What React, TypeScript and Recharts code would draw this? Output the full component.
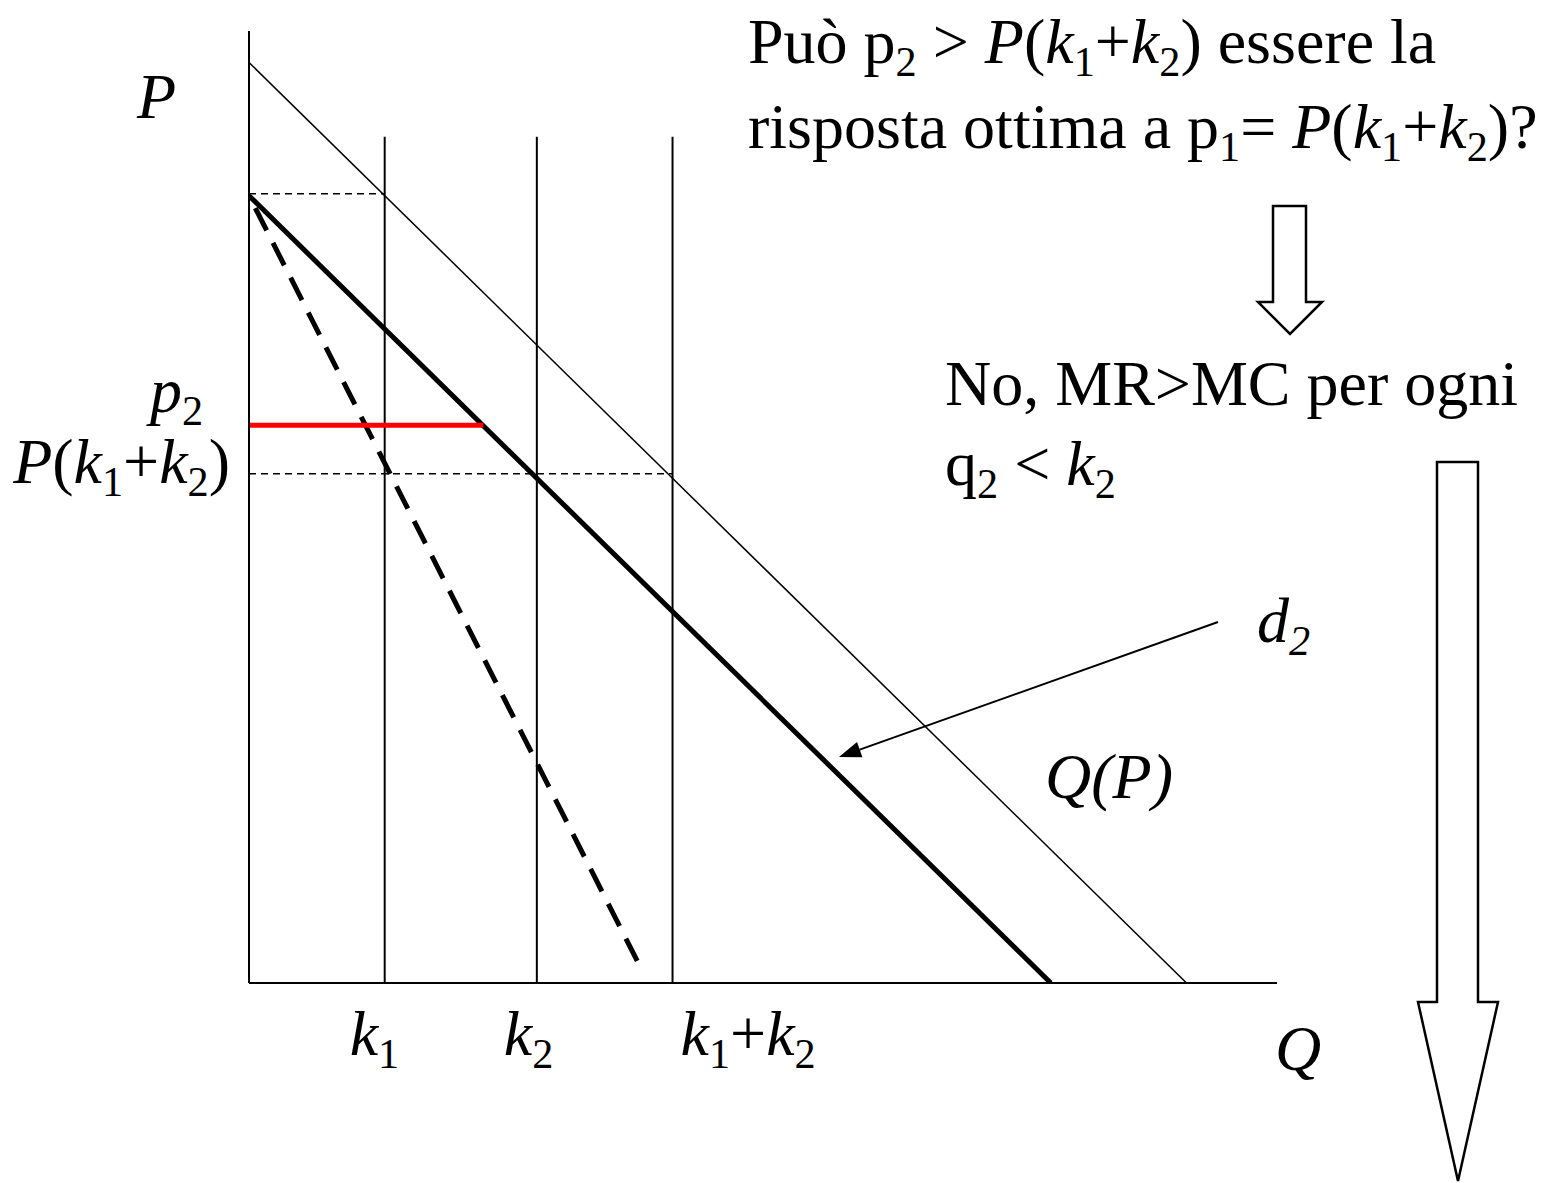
import React from "react";
import { ComposedChart, Line, XAxis, YAxis } from "recharts";

// quantities (Q) and prices (P), both axes run 0..100
const K1 = 13.2;
const K2 = 28.0;
const P_K = 53.5; // P(k1+k2)
const P2 = 58.6; // p2, the deviation price
const P_TOP_RESIDUAL = 82.9; // P(k1)
const CAP_TOP = 88.9; // height of the capacity lines

const demand = [
  { q: 0, p: 96.7 },
  { q: 91.2, p: 0 },
];
const residualDemand = [
  { q: 0, p: 82.7 },
  { q: 78.0, p: 0 },
];
const marginalRevenue = [
  { q: 0, p: 82.7 },
  { q: 38.2, p: 1.4 },
];
const p2Segment = [
  { q: 0, p: P2 },
  { q: 22.8, p: P2 },
];
const capacities = [K1, K2, K1 + K2];
const qTickLabels = ["*k*_1", "*k*_2", "*k*_1+*k*_2"];
const pTicks = [P_K, P2];
const pTickLabels = ["*P*(*k*_1+*k*_2)", "*p*_2"];

const FONT = '"Liberation Serif", "Times New Roman", serif';
const SIZE = 64;
const SUB = 0.66;
const SUB_SHIFT = 13;
const X_AXIS_H = 40;
const Y_AXIS_W = 40;

type Seg = { t: string; it: boolean; sub: boolean };

// tiny markup: *...* italic, _x subscript of a single char
function parse(src: string): Seg[] {
  const out: Seg[] = [];
  let it = false;
  for (let i = 0; i < src.length; i++) {
    const c = src[i];
    if (c === "*") {
      it = !it;
      continue;
    }
    let sub = false;
    let ch = c;
    if (c === "_") {
      sub = true;
      ch = src[++i];
    }
    const last = out[out.length - 1];
    if (last && last.it === it && last.sub === sub) last.t += ch;
    else out.push({ t: ch, it, sub });
  }
  return out;
}

function Rich({
  x,
  y,
  src,
  size = SIZE,
  anchor = "start",
}: {
  x: number;
  y: number;
  src: string;
  size?: number;
  anchor?: "start" | "middle" | "end";
}) {
  let cur = 0;
  return (
    <text
      x={x}
      y={y}
      fontFamily={FONT}
      fontSize={size}
      textAnchor={anchor}
      fill="#000"
      style={{ whiteSpace: "pre" }}
    >
      {parse(src).map((s, i) => {
        const target = s.sub ? SUB_SHIFT : 0;
        const dy = target - cur;
        cur = target;
        return (
          <tspan
            key={i}
            dy={dy}
            fontSize={s.sub ? size * SUB : size}
            fontStyle={s.it ? "italic" : "normal"}
          >
            {s.t}
          </tspan>
        );
      })}
    </text>
  );
}

// tick props carry the tick position; the axis line sits at the top / right of the axis box
const qNudge = [-35, -33, 8];
const QTick = (props: any) => {
  const { x, index } = props;
  return <Rich x={x + qNudge[index]} y={983 + 72} src={qTickLabels[index]} />;
};

const pNudge = [
  { dx: -19, dy: 9 },
  { dx: -46, dy: -13 },
];
const PTick = (props: any) => {
  const { y, index } = props;
  const n = pNudge[index];
  return <Rich x={249 + n.dx} y={y + n.dy} src={pTickLabels[index]} anchor="end" />;
};

function HollowArrow({ pts }: { pts: number[][] }) {
  return (
    <polygon
      points={pts.map((p) => p.join(",")).join(" ")}
      fill="#fff"
      stroke="#000"
      strokeWidth={2.5}
      strokeLinejoin="miter"
    />
  );
}

function Pointer({ from, to }: { from: number[]; to: number[] }) {
  const dx = to[0] - from[0];
  const dy = to[1] - from[1];
  const len = Math.hypot(dx, dy);
  const ux = dx / len;
  const uy = dy / len;
  const hl = 22;
  const hw = 8;
  const bx = to[0] - ux * hl;
  const by = to[1] - uy * hl;
  return (
    <g>
      <line x1={from[0]} y1={from[1]} x2={bx} y2={by} stroke="#000" strokeWidth={2} />
      <polygon
        points={`${to[0]},${to[1]} ${bx - uy * hw},${by + ux * hw} ${bx + uy * hw},${by - ux * hw}`}
        fill="#000"
      />
    </g>
  );
}

function Annotations() {
  return (
    <g>
      <Rich x={748} y={63} src={"Può p_2 > *P*(*k*_1+*k*_2) essere la"} />
      <Rich x={748} y={148} src={"risposta ottima a p_1= *P*(*k*_1+*k*_2)?"} />
      <Rich x={945} y={405} src={"No, MR>MC per ogni"} />
      <Rich x={945} y={485} src={"q_2 < *k*_2"} />
      <Rich x={137} y={118} src={"*P*"} />
      <Rich x={1275} y={1070} src={"*Q*"} />
      <Rich x={1257} y={642} src={"*d_2*"} />
      <Rich x={1045} y={798} src={"*Q(P)*"} />
      <Pointer from={[1218, 622]} to={[839, 757]} />
      <HollowArrow
        pts={[
          [1273, 206],
          [1306, 206],
          [1306, 302],
          [1322, 302],
          [1290, 334],
          [1258, 302],
          [1273, 302],
        ]}
      />
      <HollowArrow
        pts={[
          [1437, 462],
          [1478, 462],
          [1478, 1002],
          [1498, 1002],
          [1458, 1181],
          [1418, 1002],
          [1437, 1002],
        ]}
      />
    </g>
  );
}

const thin = {
  stroke: "#000",
  strokeWidth: 2,
  dot: false,
  activeDot: false,
  isAnimationActive: false,
  type: "linear" as const,
};

export default function App() {
  return (
    <div style={{ position: "absolute", left: 0, top: 0, background: "#fff" }}>
      <ComposedChart
        width={1545}
        height={1183}
        margin={{ top: 31, right: 268, bottom: 200 - X_AXIS_H, left: 249 - Y_AXIS_W }}
      >
        <XAxis
          type="number"
          dataKey="q"
          domain={[0, 100]}
          allowDataOverflow
          ticks={capacities}
          interval={0}
          tick={QTick}
          tickLine={false}
          axisLine={{ stroke: "#000", strokeWidth: 2 }}
          height={X_AXIS_H}
        />
        <YAxis
          type="number"
          dataKey="p"
          domain={[0, 100]}
          allowDataOverflow
          ticks={pTicks}
          interval={0}
          tick={PTick}
          tickLine={false}
          axisLine={{ stroke: "#000", strokeWidth: 2 }}
          width={Y_AXIS_W}
        />
        {/* capacity lines */}
        {capacities.map((k, i) => (
          <Line
            key={`cap${i}`}
            {...thin}
            data={[
              { q: k, p: 0 },
              { q: k, p: CAP_TOP },
            ]}
            dataKey="p"
          />
        ))}
        {/* price guides */}
        <Line
          {...thin}
          strokeWidth={1.5}
          strokeDasharray="7 5"
          data={[
            { q: 0, p: P_TOP_RESIDUAL },
            { q: K1, p: P_TOP_RESIDUAL },
          ]}
          dataKey="p"
        />
        <Line
          {...thin}
          strokeWidth={1.5}
          strokeDasharray="7 5"
          data={[
            { q: 0, p: P_K },
            { q: K1 + K2, p: P_K },
          ]}
          dataKey="p"
        />
        {/* market demand Q(P) */}
        <Line {...thin} strokeWidth={1.5} data={demand} dataKey="p" />
        {/* residual demand d2 and its marginal revenue */}
        <Line {...thin} strokeWidth={5} data={residualDemand} dataKey="p" />
        <Line
          {...thin}
          strokeWidth={5}
          strokeDasharray="25 14"
          strokeDashoffset={-14}
          data={marginalRevenue}
          dataKey="p"
        />
        <Line {...thin} stroke="#ff0000" strokeWidth={5} data={p2Segment} dataKey="p" />
        <Annotations />
      </ComposedChart>
    </div>
  );
}
